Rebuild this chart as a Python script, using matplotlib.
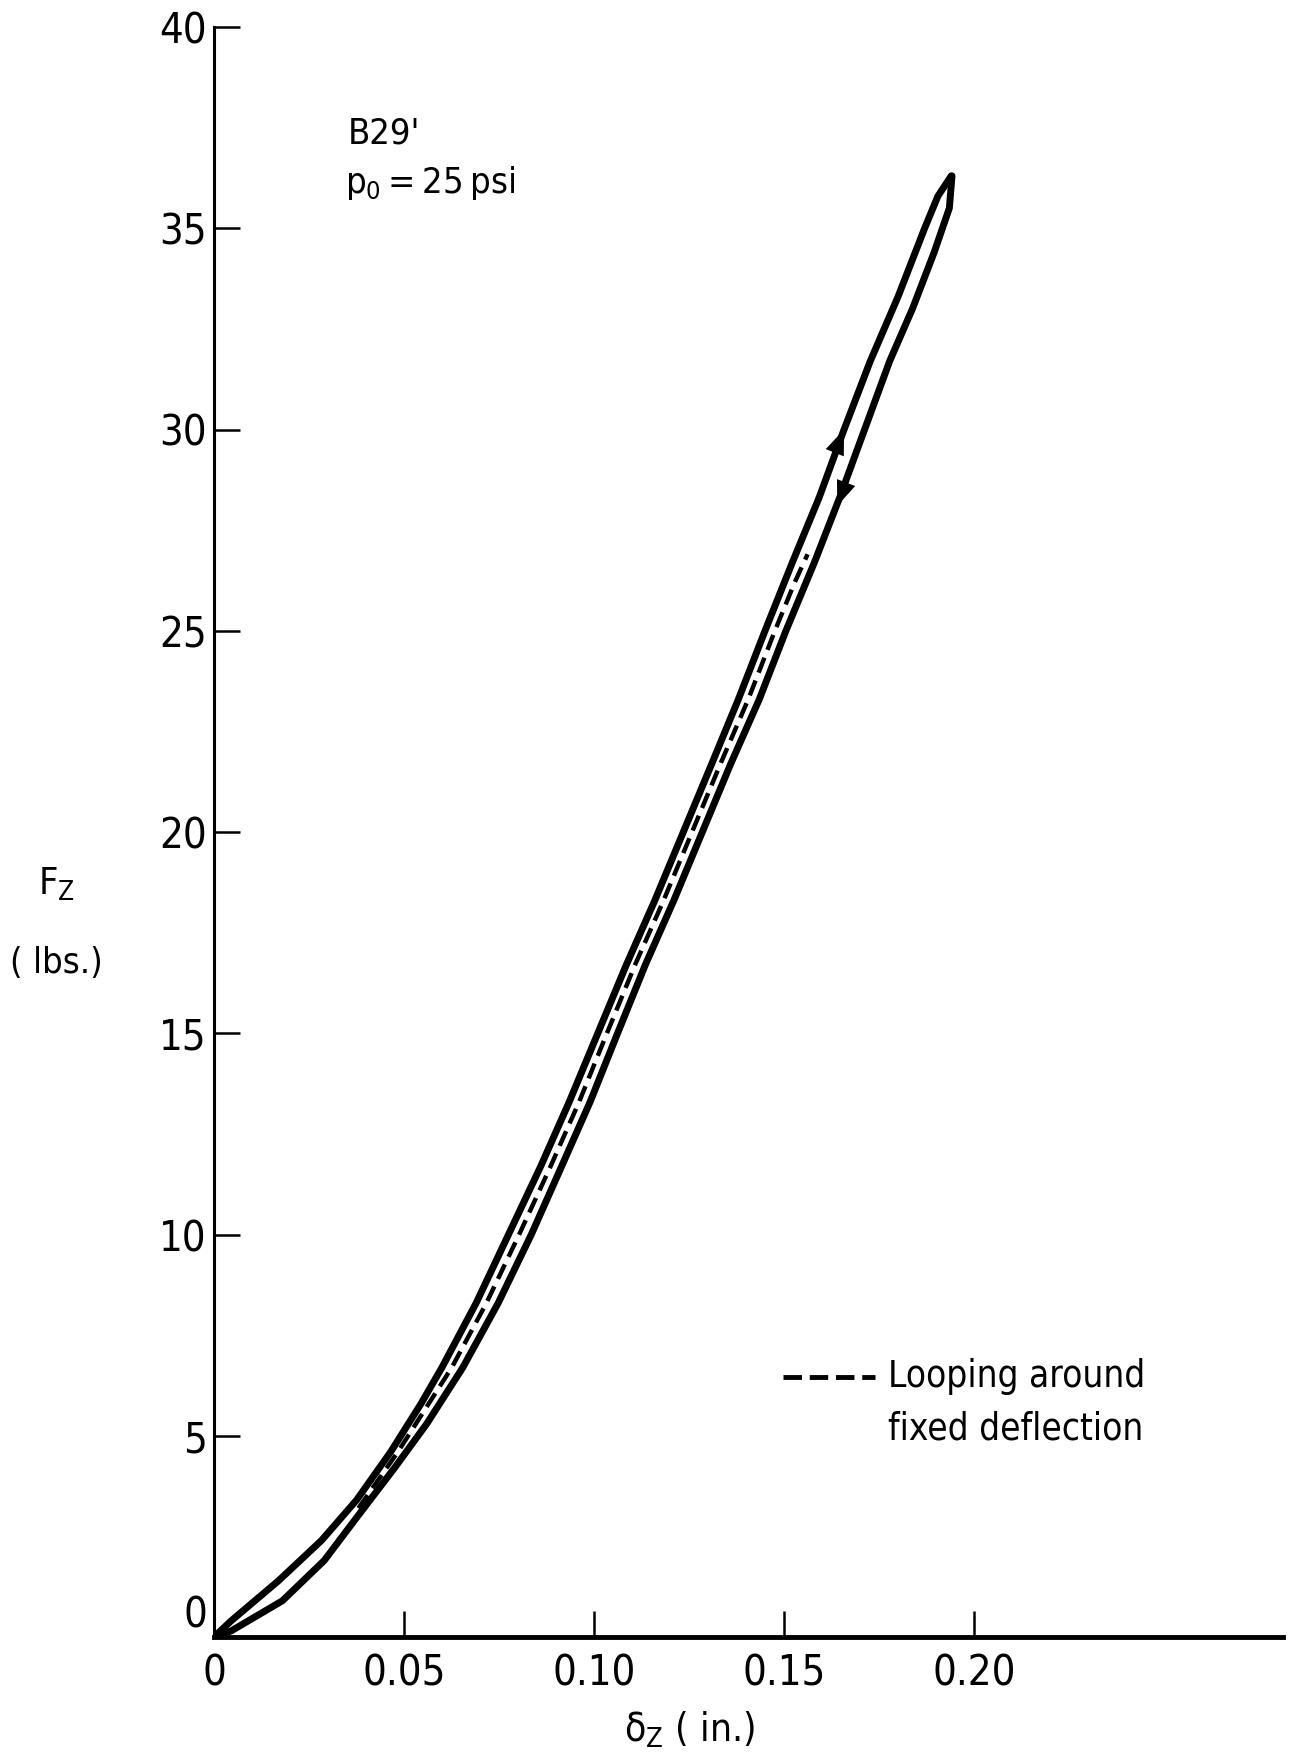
import matplotlib
matplotlib.use('Agg')
import matplotlib.pyplot as plt
from matplotlib import font_manager
from matplotlib.lines import Line2D

# loading branch (upper / left): deflection in inches, force in lbs
load_f = [0.0, 0.4, 1.4, 2.4, 3.4, 4.6, 5.8, 6.7, 8.3, 10.0, 11.7, 13.3,
          15.0, 16.7, 18.3, 20.0, 21.7, 23.3, 25.0, 26.7, 28.3, 30.0,
          31.7, 33.3, 35.0, 35.8, 36.3]
load_d = [0.0, 0.0045, 0.0170, 0.0283, 0.0375, 0.0465, 0.0545, 0.0600, 0.0690,
          0.0775, 0.0860, 0.0935, 0.1010, 0.1085, 0.1160, 0.1235, 0.1310,
          0.1380, 0.1450, 0.1522, 0.1592, 0.1658, 0.1727, 0.1800, 0.1870,
          0.1905, 0.1940]

# unloading branch (lower / right)
unload_f = [36.3, 35.5, 34.4, 33.0, 31.7, 30.0, 28.3, 26.7, 25.0, 23.3,
            21.7, 20.0, 18.3, 16.7, 15.0, 13.3, 11.7, 10.0, 8.3, 6.7,
            5.3, 4.2, 3.0, 1.9, 0.9, 0.15, 0.0]
unload_d = [0.1942, 0.1935, 0.1895, 0.1838, 0.1778, 0.1712, 0.1646, 0.1580,
            0.1505, 0.1435, 0.1360, 0.1285, 0.1210, 0.1135, 0.1062, 0.0990,
            0.0915, 0.0835, 0.0748, 0.0655, 0.0560, 0.0475, 0.0378, 0.0290,
            0.0180, 0.0045, 0.0]

# looping around fixed deflection (dashed)
loop_f = [3.2, 4.6, 6.7, 8.3, 10.0, 11.7, 13.3, 15.0, 16.7, 18.3, 20.0,
          21.7, 23.3, 25.0, 26.2, 26.9]
loop_d = [0.0380, 0.0484, 0.0626, 0.0717, 0.0803, 0.0886, 0.0961, 0.1034,
          0.1108, 0.1183, 0.1258, 0.1333, 0.1406, 0.1476, 0.1528, 0.1562]

x_ticks = [0, 0.05, 0.10, 0.15, 0.20]
x_labels = ['0', '0.05', '0.10', '0.15', '0.20']
y_ticks = [0, 5, 10, 15, 20, 25, 30, 35, 40]

# try to find a condensed face, the original lettering is narrow
narrow = ('condensed', 'semi-condensed', 'extra-condensed', 'ultra-condensed')
cands = [f for f in font_manager.fontManager.ttflist
         if f.stretch in narrow or 'Narrow' in f.name or 'Condensed' in f.name]
cands.sort(key=lambda f: (f.name not in ('DejaVu Sans', 'Liberation Sans Narrow'), f.weight != 400, f.style != 'normal'))
if cands:
    family, stretch = cands[0].name, cands[0].stretch
    scale = 1.0
else:
    family, stretch = 'Roboto', 'normal'
    scale = 0.88
plt.rcParams['font.family'] = [family, 'DejaVu Sans']
plt.rcParams['font.stretch'] = stretch
plt.rcParams['mathtext.fontset'] = 'custom'
plt.rcParams['mathtext.rm'] = family


def px(x, y):
    return x / 1294, 1 - y / 1762


fig = plt.figure(figsize=(12.94, 17.62), dpi=100)
ax = fig.add_axes([214 / 1294, 1 - 1637 / 1762, 1069 / 1294, 1610 / 1762])
ax.set_xlim(0, 0.2813)
ax.set_ylim(0, 40)

ax.plot(load_d, load_f, color='black', lw=5, solid_joinstyle='round', solid_capstyle='round')
ax.plot(unload_d, unload_f, color='black', lw=5, solid_joinstyle='round', solid_capstyle='round')
ax.plot(loop_d, loop_f, color='black', lw=3.2, dashes=(3.6, 1.9))

# direction arrows
arrow = dict(arrowstyle='-|>,head_length=0.9,head_width=0.35', color='black',
             lw=0, shrinkA=0, shrinkB=0, mutation_scale=20)
ax.annotate('', xy=(0.1658, 30.0), xytext=(0.1624, 29.2), arrowprops=arrow)
ax.annotate('', xy=(0.1640, 28.1), xytext=(0.1672, 28.9), arrowprops=arrow)

for side in ['top', 'right']:
    ax.spines[side].set_visible(False)
ax.spines['left'].set_linewidth(2.2)
ax.spines['bottom'].set_linewidth(3.5)

ax.set_xticks(x_ticks)
ax.set_xticklabels(x_labels)
ax.set_yticks(y_ticks)
ax.tick_params(direction='in', length=19, width=1.8, labelsize=30 * scale)
ax.tick_params(axis='x', pad=11)
ax.tick_params(axis='y', pad=5)
ax.get_yticklabels()[0].set_verticalalignment('bottom')

fs = 27 * scale
fig.text(*px(56, 884), r'F$_\mathregular{Z}$', ha='center', va='center', fontsize=fs)
fig.text(*px(56, 963), '( lbs.)', ha='center', va='center', fontsize=26 * scale)
fig.text(*px(690, 1730), r'δ$_\mathregular{Z}$ ( in.)', ha='center', va='center', fontsize=28 * scale)

fig.text(*px(348, 143), "B29'", ha='left', va='baseline', fontsize=26 * scale)
fig.text(*px(345, 193), 'p$_\\mathregular{0}$\u2009=\u200925\u2009psi', ha='left', va='baseline',
         fontsize=26 * scale)

# legend
fig.add_artist(Line2D([783 / 1294, 875 / 1294], [1 - 1377 / 1762] * 2, color='black',
                      lw=3.5, dashes=(3.8, 1.6)))
fig.text(*px(888, 1387), 'Looping around', ha='left', va='baseline', fontsize=26.5 * scale)
fig.text(*px(888, 1440), 'fixed deflection', ha='left', va='baseline', fontsize=26.5 * scale)

fig.savefig('out.png', dpi=100)
